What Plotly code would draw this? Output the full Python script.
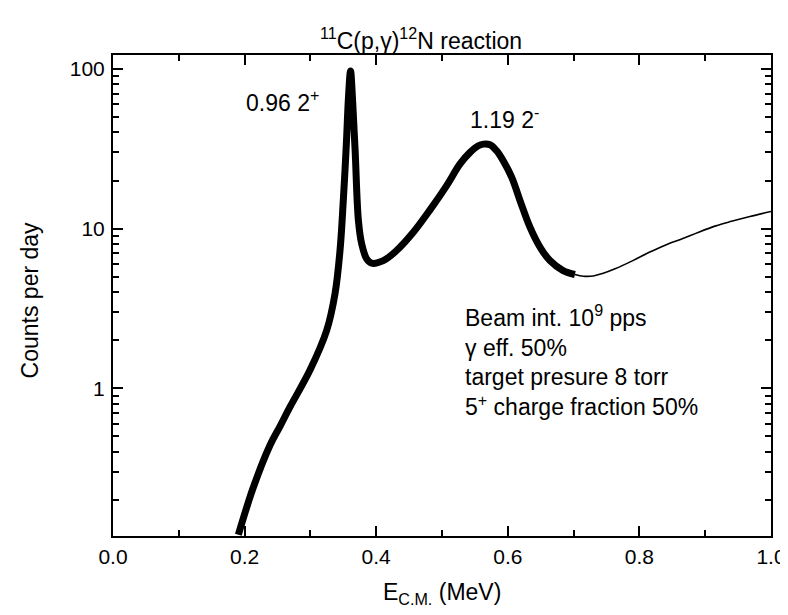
import plotly.graph_objects as go

# Thick part of the curve (resonance region)
energy_thick = [0.1905, 0.2133, 0.2386, 0.254, 0.269, 0.2994, 0.3247, 0.3374, 0.345, 0.350,
                0.3545, 0.358, 0.361, 0.364, 0.368, 0.373, 0.378, 0.3855, 0.393, 0.4108,
                0.431, 0.4564, 0.4818, 0.5071, 0.5274, 0.5426, 0.5552, 0.5628, 0.573, 0.583,
                0.593, 0.606, 0.6185, 0.6337, 0.649, 0.664, 0.684, 0.702]
counts_thick = [0.121, 0.24, 0.44, 0.58, 0.764, 1.30, 2.30, 3.91, 7.29, 15.0,
                33, 68, 97, 65, 30.7, 11.2, 8.0, 6.46, 6.07, 6.3,
                7.29, 9.48, 13.1, 18.6, 25.4, 30.0, 33.0, 33.8, 33.5, 30.7,
                26.6, 20.9, 15.0, 10.2, 7.64, 6.31, 5.46, 5.16]

# Thin continuation
energy_thin = [0.702, 0.715, 0.73, 0.745, 0.763, 0.79, 0.815, 0.84, 0.866, 0.89,
               0.916, 0.94, 0.968, 1.0]
counts_thin = [5.16, 5.03, 5.05, 5.25, 5.6, 6.3, 7.1, 7.9, 8.66, 9.5,
               10.4, 11.1, 11.9, 12.8]

x_ticks = [0.0, 0.2, 0.4, 0.6, 0.8, 1.0]

FONT = "Liberation Sans, Arial, sans-serif"

fig = go.Figure()
fig.add_trace(go.Scatter(x=energy_thick, y=counts_thick, mode="lines",
                         line=dict(color="black", width=7, shape="spline", smoothing=1.0),
                         showlegend=False, hoverinfo="skip"))
fig.add_trace(go.Scatter(x=energy_thin, y=counts_thin, mode="lines",
                         line=dict(color="black", width=1.6, shape="spline", smoothing=1.0),
                         showlegend=False, hoverinfo="skip"))

axis_common = dict(showline=True, linecolor="black", linewidth=2, mirror="allticks",
                   ticks="inside", ticklen=10, tickwidth=1.6, tickcolor="black",
                   showgrid=False, zeroline=False, automargin=False,
                   tickfont=dict(family=FONT, size=21, color="black"))

fig.update_xaxes(range=[0, 1], tickvals=x_ticks, tickformat=".1f",
                 minor=dict(ticks="inside", ticklen=6, tickwidth=1.6, tickcolor="black", dtick=0.1),
                 ticklabelstandoff=1, **axis_common)
fig.update_yaxes(type="log", range=[-0.925, 2.087], dtick=1, tick0=0,
                 minor=dict(ticks="inside", ticklen=6, tickwidth=1.6, tickcolor="black", dtick="D1"),
                 ticklabelstandoff=2, **axis_common)

ann_font = dict(family=FONT, size=23, color="black")
fig.add_annotation(x=0.199, y=1.8, xref="x", yref="y", text="0.96 2<sup>+</sup>",
                   showarrow=False, xanchor="left", yanchor="middle", font=ann_font)
fig.add_annotation(x=0.540, y=1.694, xref="x", yref="y", text="1.19 2<sup>-</sup>",
                   showarrow=False, xanchor="left", yanchor="middle", font=ann_font)
fig.add_annotation(x=0.532, y=0.56, xref="x", yref="y",
                   text="Beam int. 10<sup>9</sup> pps<br>γ eff. 50%<br>target presure 8 torr<br>5<sup>+</sup> charge fraction 50%",
                   showarrow=False, xanchor="left", yanchor="top", align="left", font=ann_font)

# Title and axis titles
fig.add_annotation(x=0.468, y=1.033, xref="paper", yref="paper",
                   text="<sup>11</sup>C(p,γ)<sup>12</sup>N reaction",
                   showarrow=False, xanchor="center", yanchor="middle",
                   font=dict(family=FONT, size=23, color="black"))
fig.add_annotation(x=0.5, y=-0.12, xref="paper", yref="paper",
                   text="E<sub>C.M.</sub> (MeV)",
                   showarrow=False, xanchor="center", yanchor="middle",
                   font=dict(family=FONT, size=23, color="black"))
fig.add_annotation(x=-0.126, y=0.49, xref="paper", yref="paper",
                   text="Counts per day", textangle=-90,
                   showarrow=False, xanchor="center", yanchor="middle",
                   font=dict(family=FONT, size=23, color="black"))

# The page body adds an 8px margin, so the figure is 8px smaller than the window
fig.update_layout(width=780, height=607,
                  margin=dict(l=105, r=17, t=47, b=79, autoexpand=False),
                  plot_bgcolor="white", paper_bgcolor="white",
                  font=dict(family=FONT, color="black"))

fig.write_html("out.html")
